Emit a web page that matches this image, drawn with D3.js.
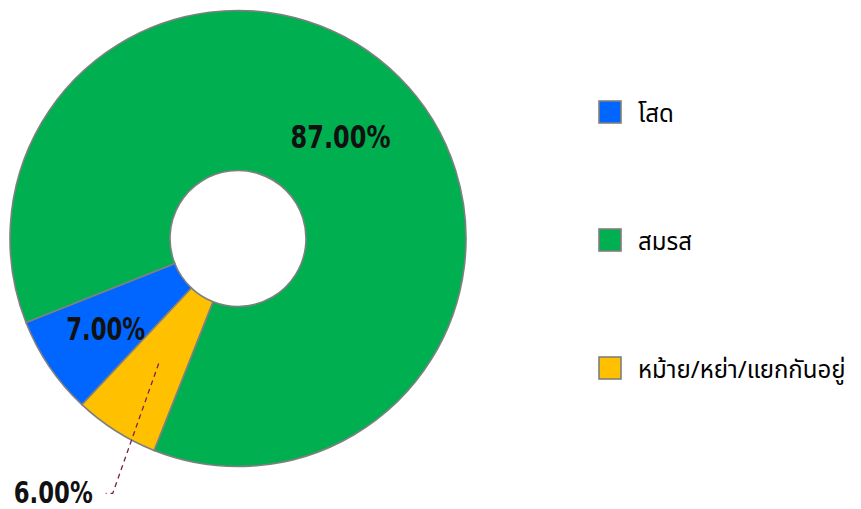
<!DOCTYPE html>
<html><head><meta charset="utf-8">
<script src="https://cdn.jsdelivr.net/npm/d3@7"></script>
<style>body{margin:0;background:#fff;} svg{display:block;}</style>
</head><body>
<svg id="chart" width="861" height="509"></svg>
<script>
const categories = ["โสด", "สมรส", "หม้าย/หย่า/แยกกันอยู่"];
const values = [7, 87, 6];
const labels = ["7.00%", "87.00%", "6.00%"];
const colors = ["#0066FF", "#00B050", "#FFC000"];

const svg = d3.select("#chart");
const cx = 238, cy = 238.5, rOuter = 228, rInner = 68;
const startDeg = 223.2;

const pie = d3.pie().sort(null).value(d => d)
  .startAngle(startDeg * Math.PI / 180)
  .endAngle((startDeg + 360) * Math.PI / 180);
const arcs = pie(values);
const arc = d3.arc().innerRadius(rInner).outerRadius(rOuter);

const g = svg.append("g").attr("transform", `translate(${cx},${cy})`);
g.selectAll("path.slice").data(arcs).join("path")
  .attr("class", "slice")
  .attr("d", arc)
  .attr("fill", (d, i) => colors[i])
  .attr("stroke", "#7F7F7F")
  .attr("stroke-width", 1.6);

const labelFont = "'DejaVu Sans',sans-serif";
const labelRadius = [160, 145, 148];
function addLabel(x, y, txt, anchor, size) {
  const w = txt.length === 6 ? 100 : 79;
  return g.append("text")
    .attr("x", x).attr("y", y)
    .attr("text-anchor", anchor)
    .attr("dominant-baseline", "central")
    .attr("font-family", labelFont)
    .attr("font-weight", "bold")
    .attr("font-size", size)
    .attr("fill", "#111")
    .attr("textLength", w)
    .attr("lengthAdjust", "spacingAndGlyphs")
    .text(txt);
}
arcs.forEach((a, i) => {
  const mid = (a.startAngle + a.endAngle) / 2;
  const r = labelRadius[i];
  const x = r * Math.sin(mid), y = -r * Math.cos(mid);
  if (i === 2) {
    const ex = x - 46, ey = y + 130;
    g.append("path")
      .attr("d", `M${x},${y}L${ex},${ey}L${ex - 7},${ey}`)
      .attr("fill", "none")
      .attr("stroke", "#7B1F4F")
      .attr("stroke-width", 1.3)
      .attr("stroke-dasharray", "5,4");
    addLabel(ex - 20, ey - 1, labels[i], "end", 30);
  } else {
    addLabel(x, y + 1, labels[i], "middle", 32);
  }
});

// legend
const legendY = d3.scalePoint().domain(categories).range([112, 368]);
const lg = svg.append("g");
categories.forEach((c, i) => {
  const y = legendY(c);
  lg.append("rect")
    .attr("x", 599).attr("y", y - 11)
    .attr("width", 22).attr("height", 22)
    .attr("fill", colors[i])
    .attr("stroke", "#7F7F7F")
    .attr("stroke-width", 1.6);
  lg.append("text")
    .attr("x", 638).attr("y", y)
    .attr("dominant-baseline", "central")
    .attr("font-family", "'Noto Sans','Noto Sans Thai',sans-serif")
    .attr("font-size", 24)
    .attr("fill", "#000")
    .text(c);
});
</script>
</body></html>
